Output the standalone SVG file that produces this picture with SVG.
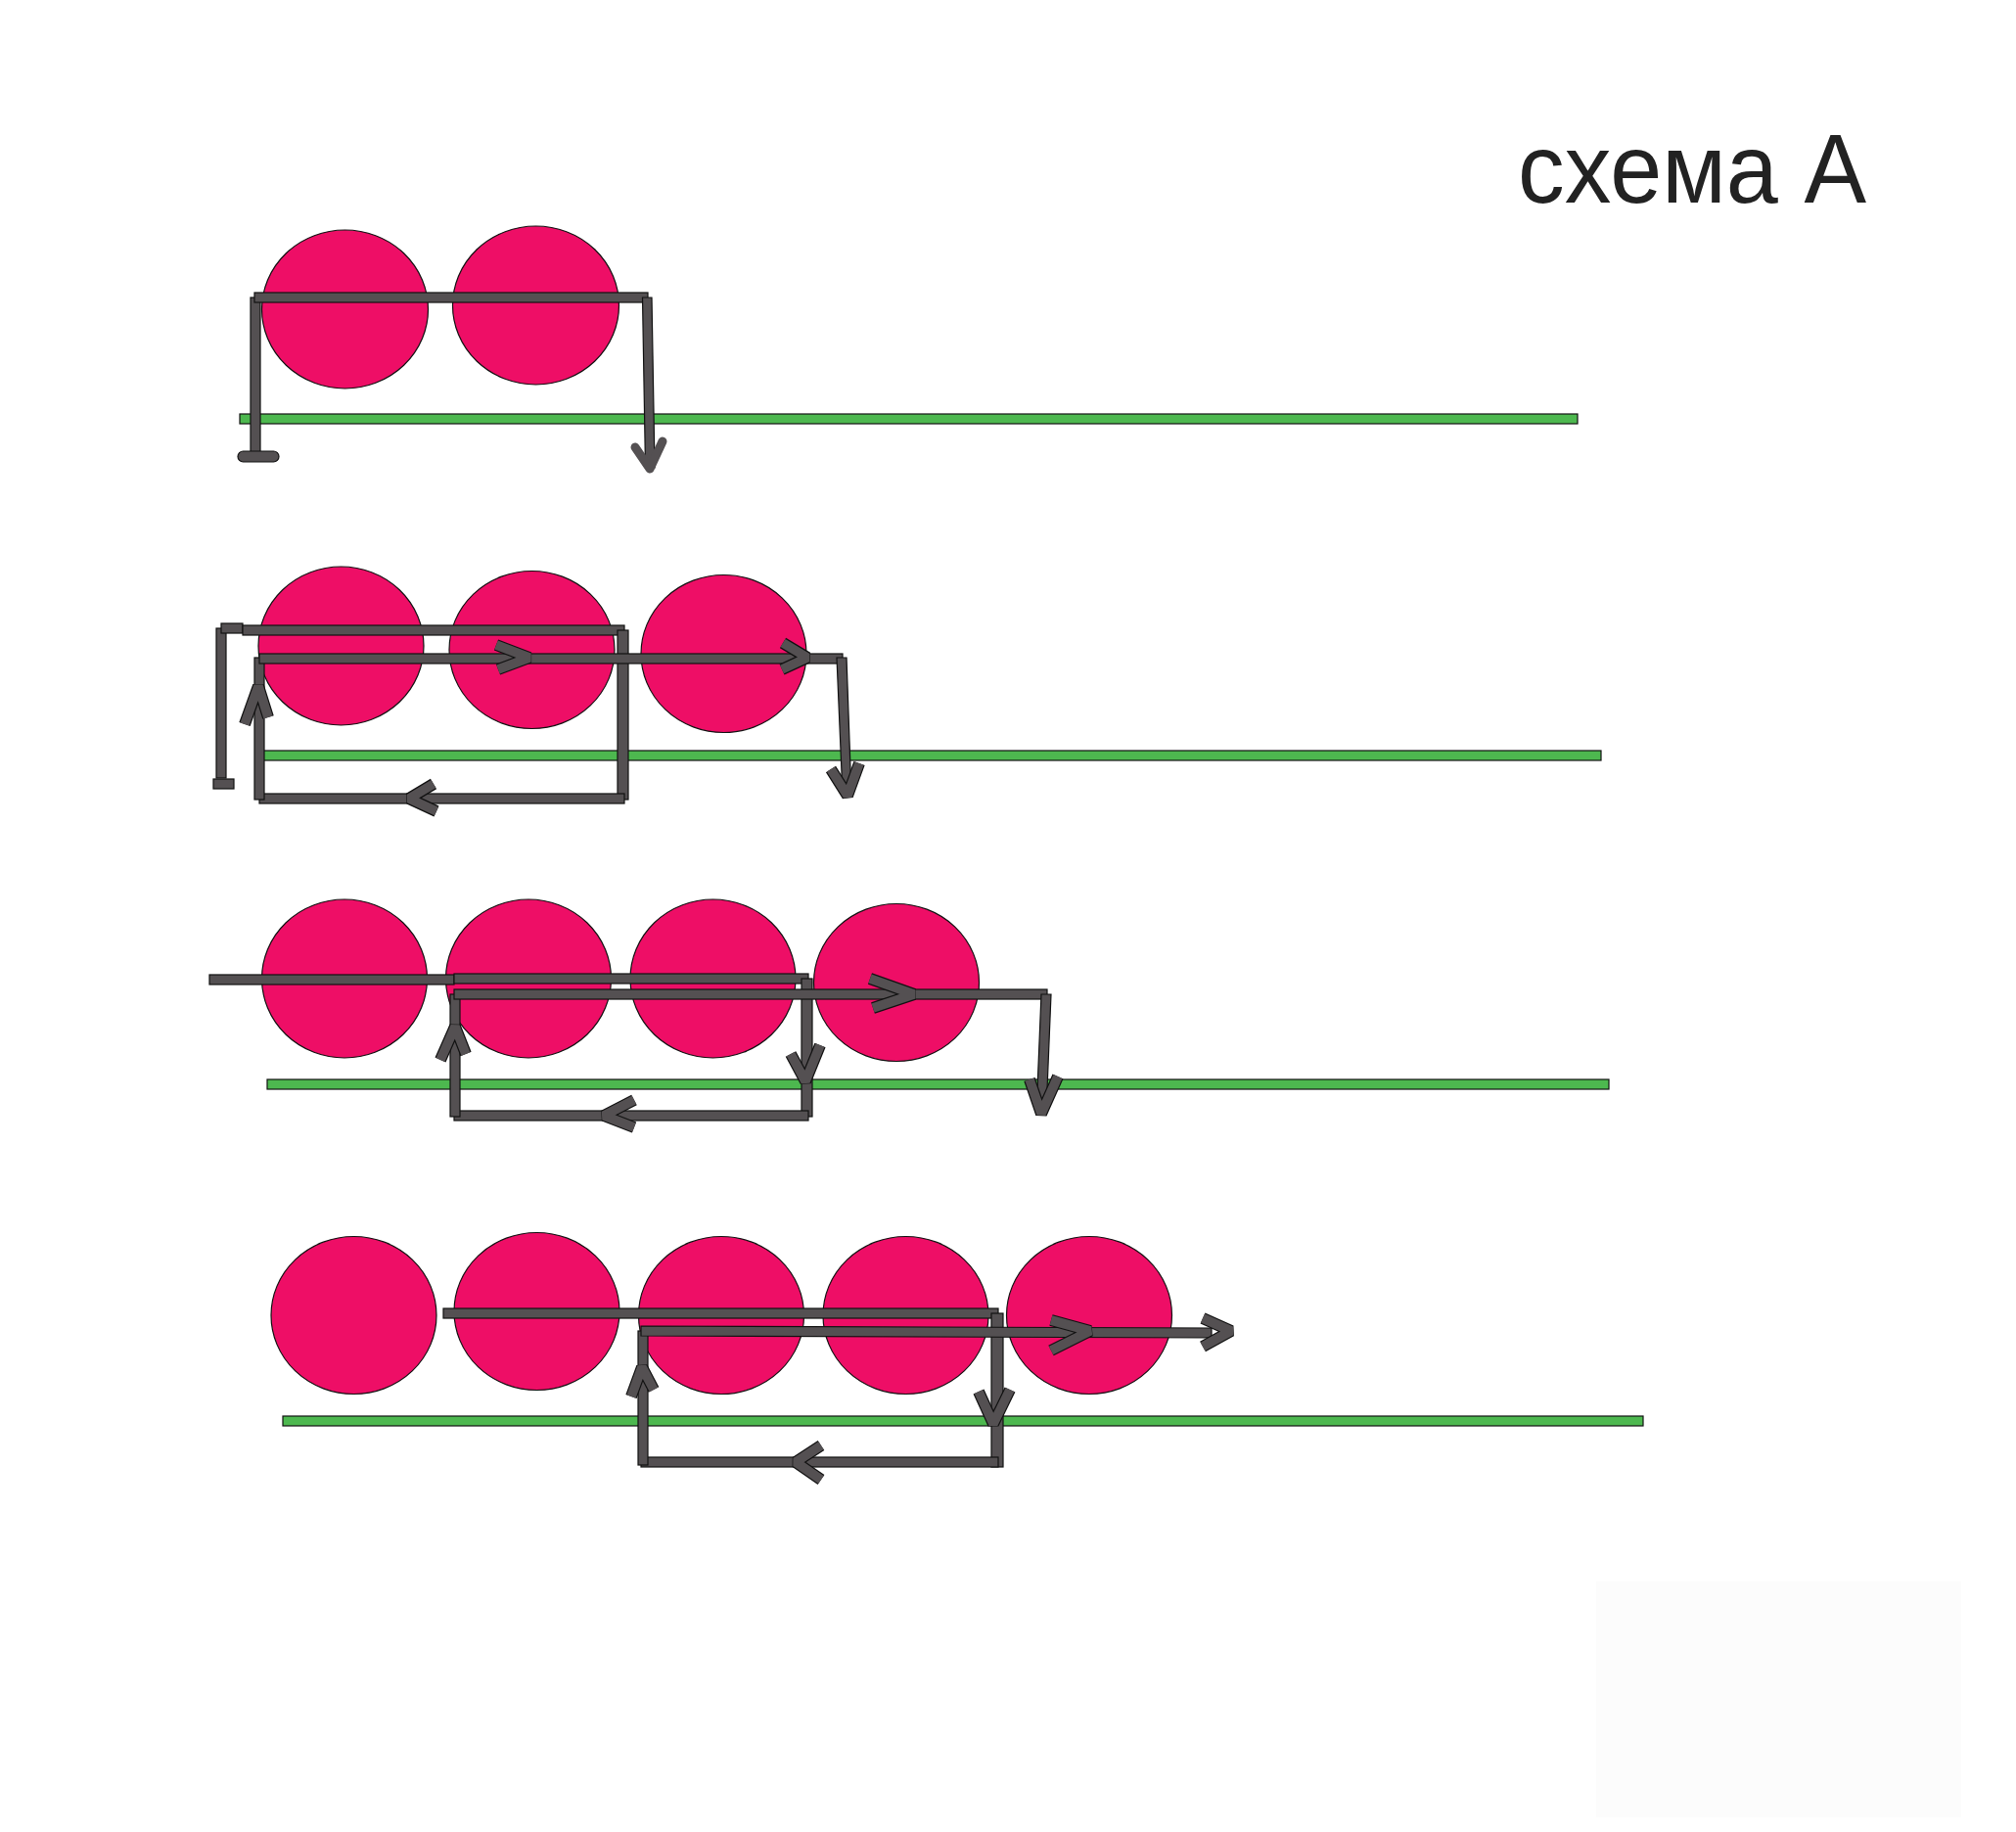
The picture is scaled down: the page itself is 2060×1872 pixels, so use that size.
<svg xmlns="http://www.w3.org/2000/svg" width="2060" height="1872" viewBox="0 0 2060 1872">
<style>
.ball{fill:#ee0e66;stroke:#111;stroke-width:1.2}
.rail{fill:#4db84f;stroke:#111;stroke-width:1.2}
.bar{fill:#545052;stroke:#111;stroke-width:1.2}
.ho{fill:none;stroke:#111;stroke-width:12;stroke-linejoin:bevel}
.hi{fill:none;stroke:#545052;stroke-width:9.6;stroke-linejoin:bevel}
.soft{fill:none;stroke:#545052;stroke-width:9;stroke-linecap:round;stroke-linejoin:round}
</style>
<rect x="0" y="0" width="2060" height="1872" fill="#ffffff"/>
<rect x="1631" y="1616" width="373" height="241" fill="#fcfcfc"/>
<text x="1551" y="207" font-family="'Liberation Sans', Arial, sans-serif" font-size="100" fill="#222" textLength="356" lengthAdjust="spacingAndGlyphs">схема А</text>

<g id="row1-nodes">
<ellipse id="r1-b1" class="ball" cx="352.5" cy="316" rx="85" ry="81"/>
<ellipse id="r1-b2" class="ball" cx="547.5" cy="312" rx="85" ry="81"/>
</g>
<g id="row2-nodes">
<ellipse id="r2-b1" class="ball" cx="348.5" cy="660" rx="84.5" ry="81"/>
<ellipse id="r2-b2" class="ball" cx="543.5" cy="664" rx="84.5" ry="80.5"/>
<ellipse id="r2-b3" class="ball" cx="739.5" cy="668" rx="84.5" ry="80.5"/>
</g>
<g id="row3-nodes">
<ellipse id="r3-b1" class="ball" cx="352" cy="1000" rx="84.5" ry="81"/>
<ellipse id="r3-b2" class="ball" cx="540" cy="1000" rx="84.5" ry="81"/>
<ellipse id="r3-b3" class="ball" cx="728.5" cy="1000" rx="84.5" ry="81"/>
<ellipse id="r3-b4" class="ball" cx="916" cy="1004" rx="84.5" ry="80.5"/>
</g>
<g id="row4-nodes">
<ellipse id="r4-b1" class="ball" cx="361.5" cy="1344" rx="84.5" ry="80.5"/>
<ellipse id="r4-b2" class="ball" cx="548.5" cy="1340" rx="84.5" ry="80.5"/>
<ellipse id="r4-b3" class="ball" cx="737" cy="1344" rx="84.5" ry="80.5"/>
<ellipse id="r4-b4" class="ball" cx="925.5" cy="1344" rx="84.5" ry="80.5"/>
<ellipse id="r4-b5" class="ball" cx="1113" cy="1344" rx="84.5" ry="80.5"/>
</g>

<g id="rails">
<rect class="rail" x="245" y="423" width="1367" height="10"/>
<rect class="rail" x="266" y="767" width="1370" height="10"/>
<rect class="rail" x="273" y="1103" width="1371" height="10"/>
<rect class="rail" x="289" y="1447" width="1390" height="10"/>
</g>

<g id="connectors">
<!-- row 1 -->
<rect class="bar" x="256" y="304" width="10" height="160"/>
<rect class="bar" x="243" y="461" width="42" height="11" rx="5.5"/>
<rect class="bar" x="260" y="299" width="402" height="10"/>
<polygon class="bar" points="656.5,304 666,304 669,478 659.5,478"/>
<path class="soft" d="M649,457 L664,479 L677,451"/>

<!-- row 2 -->
<rect class="bar" x="221" y="642" width="10" height="153"/>
<rect class="bar" x="218" y="796" width="21" height="10"/>
<rect class="bar" x="226" y="637" width="22" height="10"/>
<rect class="bar" x="248" y="639" width="390" height="10"/>
<rect class="bar" x="631" y="644" width="11" height="173"/>
<rect class="bar" x="265" y="811" width="373" height="10"/>
<rect class="bar" x="260" y="672" width="10" height="145"/>
<rect class="bar" x="265" y="668" width="596" height="10"/>
<polygon class="bar" points="855,672 865,672 870,813 861,813"/>
<path class="ho" d="M507,659 L541,672 L509,684"/><path class="hi" d="M507,659 L541,672 L509,684"/>
<path class="ho" d="M800,657 L825,672 L799,684"/><path class="hi" d="M800,657 L825,672 L799,684"/>
<path class="ho" d="M250,740 L264,701 L274,733"/><path class="hi" d="M250,740 L264,701 L274,733"/>
<path class="ho" d="M849,786 L866,813 L878,780"/><path class="hi" d="M849,786 L866,813 L878,780"/>
<path class="ho" d="M443,801 L418,816 L446,829"/><path class="hi" d="M443,801 L418,816 L446,829"/>

<!-- row 3 -->
<rect class="bar" x="214" y="996" width="250" height="10"/>
<rect class="bar" x="464" y="995" width="362" height="10"/>
<rect class="bar" x="819" y="1000" width="11" height="141"/>
<rect class="bar" x="464" y="1135" width="362" height="10"/>
<rect class="bar" x="460" y="1016" width="10" height="125"/>
<rect class="bar" x="464" y="1011" width="606" height="10"/>
<polygon class="bar" points="1064,1016 1074,1016 1069,1138 1059,1138"/>
<path class="ho" d="M889,1000 L934,1016 L892,1030"/><path class="hi" d="M889,1000 L934,1016 L892,1030"/>
<path class="ho" d="M808,1077 L823,1105 L838,1068"/><path class="hi" d="M808,1077 L823,1105 L838,1068"/>
<path class="ho" d="M648,1124 L617,1140 L648,1152"/><path class="hi" d="M648,1124 L617,1140 L648,1152"/>
<path class="ho" d="M450,1083 L465,1049 L476,1077"/><path class="hi" d="M450,1083 L465,1049 L476,1077"/>
<path class="ho" d="M1052,1103 L1064,1138 L1081,1100"/><path class="hi" d="M1052,1103 L1064,1138 L1081,1100"/>

<!-- row 4 -->
<rect class="bar" x="453" y="1337" width="567" height="10"/>
<rect class="bar" x="1013" y="1342" width="12" height="157"/>
<rect class="bar" x="655" y="1489" width="365" height="10"/>
<rect class="bar" x="652" y="1360" width="10" height="137"/>
<polygon class="bar" points="655,1355 1238,1357 1238,1367 655,1365"/>
<path class="ho" d="M1074,1349 L1114,1360 L1074,1380"/><path class="hi" d="M1074,1349 L1114,1360 L1074,1380"/>
<path class="ho" d="M1229,1347 L1258,1360 L1229,1376"/><path class="hi" d="M1229,1347 L1258,1360 L1229,1376"/>
<path class="ho" d="M1000,1422 L1015,1455 L1032,1420"/><path class="hi" d="M1000,1422 L1015,1455 L1032,1420"/>
<path class="ho" d="M839,1477 L813,1494 L839,1512"/><path class="hi" d="M839,1477 L813,1494 L839,1512"/>
<path class="ho" d="M645,1427 L656,1397 L668,1420"/><path class="hi" d="M645,1427 L656,1397 L668,1420"/>
</g>
</svg>
